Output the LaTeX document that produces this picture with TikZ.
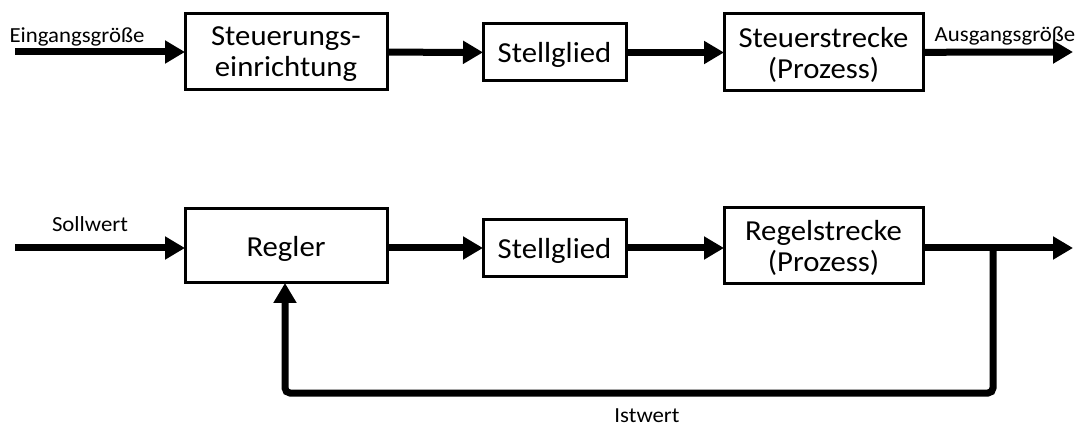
\documentclass[tikz,border=0pt]{standalone}
\usepackage{fontspec}
\setmainfont{Carlito}[FakeStretch=1.06]
\usetikzlibrary{arrows.meta}
\begin{document}
\begin{tikzpicture}[x=1pt,y=-1pt,
  block/.style={draw,line width=3pt,inner sep=0pt,outer sep=0pt,align=center,
    text depth=0pt,font=\fontsize{29}{31}\selectfont},
  flow/.style={line width=7pt,-{Triangle[length=20pt,width=22pt]}},
  feed/.style={line width=7pt,rounded corners=5pt,-{Triangle[length=20pt,width=22pt]}},
  sig/.style={font=\fontsize{21.5}{25}\selectfont,anchor=base,inner sep=0pt}]
\useasboundingbox[fill=white] (0,0) rectangle (1081,427);

% open-loop control chain
\node[block,minimum width=202pt,minimum height=76pt] (steu) at (286,52) {Steuerungs-\\einrichtung};
\node[block,minimum width=143pt,minimum height=57pt] (stellA) at (554.5,52.5) {Stellglied};
\node[block,minimum width=199pt,minimum height=77pt] (streckeA) at (823.5,52.5) {Steuerstrecke\\(Prozess)};
\coordinate (inA) at (15,52);
\coordinate (outA) at (1073,52);
\draw[flow] (inA) -- (steu);
\draw[flow] (steu) -- (stellA);
\draw[flow] (stellA) -- (streckeA);
\draw[flow] (streckeA) -- (outA);
\node[sig] (lblIn) at (77,43) {Eingangsgröße};
\node[sig] (lblOut) at (1005,42) {Ausgangsgröße};

% closed-loop control chain
\node[block,minimum width=202pt,minimum height=74pt] (regler) at (286,246) {Regler};
\node[block,minimum width=143pt,minimum height=57pt] (stellB) at (554.5,248) {Stellglied};
\node[block,minimum width=199pt,minimum height=76pt] (streckeB) at (823.5,246) {Regelstrecke\\(Prozess)};
\coordinate (inB) at (15,248);
\coordinate (outB) at (1073,248);
\coordinate (branch) at (993,248);
\draw[flow] (inB) -- (inB -| regler.west);
\draw[flow] (regler.east |- stellB) -- (stellB);
\draw[flow] (stellB) -- (stellB -| streckeB.west);
\draw[flow] (streckeB.east |- outB) -- (outB);
\draw[feed] (branch) -- (993,393) -- (285,393) -- (285,393 |- regler.south);
\node[sig] (lblSoll) at (90,232) {Sollwert};
\node[sig] (lblIst) at (647,422) {Istwert};
\end{tikzpicture}
\end{document}
